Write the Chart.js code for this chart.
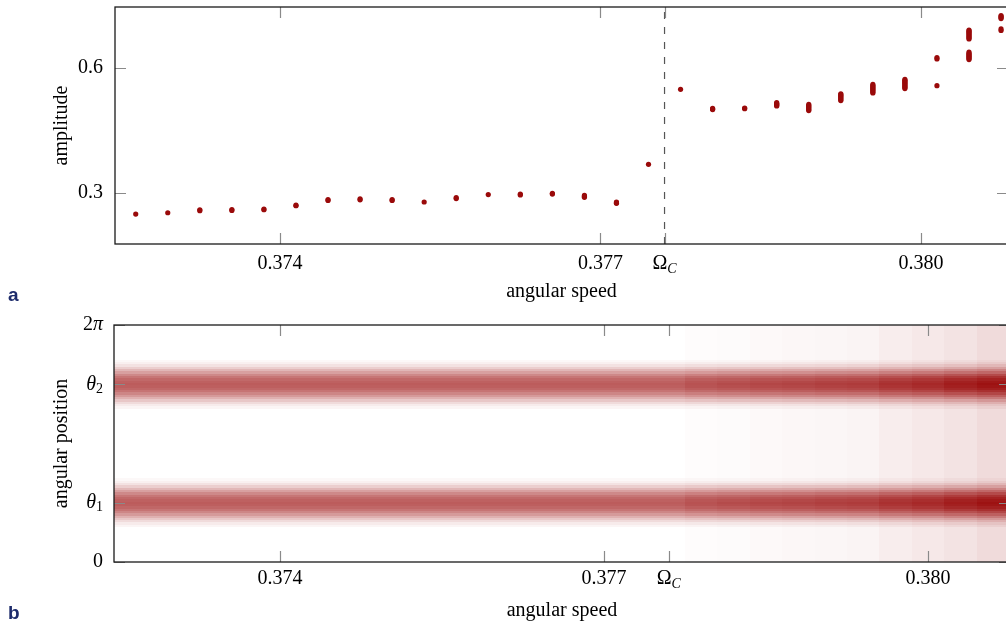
<!DOCTYPE html>
<html lang="en">
<head>
<meta charset="UTF-8">
<title>Amplitude and angular position vs angular speed</title>
<script src="https://cdn.jsdelivr.net/npm/chart.js"></script>
<style>
  html, body { margin: 0; padding: 0; background: #fff; overflow: hidden; }
  body { width: 1006px; height: 626px; position: relative; }
  canvas { position: absolute; left: 0; }
  #chartA { top: 0; }
  #chartB { top: 306px; }
  .tag {
    position: absolute; left: 8px;
    font-family: 'Liberation Sans', Arial, sans-serif;
    font-weight: bold; font-size: 19px; line-height: 20px;
    color: #1d2b6b;
  }
</style>
</head>
<body>
<canvas id="chartA" width="1012" height="318"></canvas>
<canvas id="chartB" width="1012" height="320"></canvas>
<div class="tag" style="top:285px">a</div>
<div class="tag" style="top:603px">b</div>
<script>
// angular speed of each sample
const speeds = [0.37265, 0.37295, 0.37325, 0.37355, 0.37385, 0.37415, 0.37445,
  0.37475, 0.37505, 0.37535, 0.37565, 0.37595, 0.37625, 0.37655, 0.37685,
  0.37715, 0.37745, 0.37775, 0.37805, 0.37835, 0.37865, 0.37895, 0.37925,
  0.37955, 0.37985, 0.38015, 0.38045, 0.38075];

// amplitudes seen at each speed
const amplitudes = [
  [0.2497],
  [0.2528],
  [0.2578, 0.2600],
  [0.2583, 0.2603],
  [0.2600, 0.2618],
  [0.2695, 0.2710],
  [0.2822, 0.2842],
  [0.2838, 0.2860],
  [0.2822, 0.2842],
  [0.2785],
  [0.2868, 0.2890],
  [0.2964],
  [0.2955, 0.2975],
  [0.2975, 0.2995],
  [0.2897, 0.2920, 0.2943],
  [0.2753, 0.2770, 0.2785],
  [0.3687],
  [0.5483],
  [0.4997, 0.5012, 0.5025],
  [0.5020, 0.5035],
  [0.5083, 0.5103, 0.5123, 0.5143, 0.5162],
  [0.4973, 0.4995, 0.5020, 0.5045, 0.5070, 0.5095, 0.5121],
  [0.5212, 0.5235, 0.5260, 0.5285, 0.5310, 0.5335, 0.5355, 0.5377],
  [0.5394, 0.5420, 0.5445, 0.5470, 0.5495, 0.5520, 0.5545, 0.5570, 0.5600],
  [0.5500, 0.5525, 0.5550, 0.5575, 0.5600, 0.5625, 0.5650, 0.5675, 0.5700, 0.5720],
  [0.5570, 0.6210, 0.6240],
  [0.6194, 0.6220, 0.6245, 0.6270, 0.6295, 0.6320, 0.6345, 0.6376,
   0.6687, 0.6710, 0.6735, 0.6760, 0.6785, 0.6810, 0.6835, 0.6860, 0.6880, 0.6900],
  [0.6890, 0.6927, 0.7175, 0.7200, 0.7225, 0.7250]
];

const omegaC = 0.3776;
const speedTicks = [0.374, 0.377, omegaC, 0.380];
const amplitudeTicks = [0.3, 0.6];
const angleTicks = [0, Math.PI / 2, 3 * Math.PI / 2, 2 * Math.PI];

// panel b: density of angular position, one column per speed sample
const cellWidth = 0.0003;
const angleRows = 102;
const bandCenters = [Math.PI / 2, 3 * Math.PI / 2];
const bandProfile = [0.06, 0.12, 0.22, 0.34, 0.48, 0.62, 0.74, 0.85, 0.93, 0.98,
  1.0, 0.97, 0.92, 0.84, 0.72, 0.58, 0.44, 0.30, 0.18, 0.09, 0.04];
const peakLevel = [0.64, 0.64, 0.64, 0.64, 0.64, 0.64, 0.64, 0.64, 0.64, 0.64,
  0.64, 0.64, 0.64, 0.64, 0.64, 0.64, 0.64, 0.64, 0.68, 0.70, 0.72, 0.73, 0.75,
  0.76, 0.80, 0.83, 0.88, 0.92];
const backLevel = [0, 0, 0, 0, 0, 0, 0, 0, 0, 0, 0, 0, 0, 0, 0, 0, 0, 0,
  0.01, 0.015, 0.025, 0.03, 0.035, 0.045, 0.07, 0.09, 0.11, 0.14];

const SERIF = "'Liberation Serif', 'Times New Roman', serif";
Chart.defaults.font.family = SERIF;
Chart.defaults.font.size = 20;
Chart.defaults.color = '#000';

// main glyph plus a subscript / second part
function drawPair(ctx, main, mainFont, sub, subFont, drop, x, y, align) {
  ctx.font = mainFont;
  const w1 = ctx.measureText(main).width;
  ctx.font = subFont;
  const w2 = ctx.measureText(sub).width;
  let x0 = align === 'right' ? x - w1 - w2 : x - (w1 + w2) / 2;
  ctx.textAlign = 'left';
  ctx.textBaseline = 'middle';
  ctx.fillStyle = '#000';
  ctx.font = mainFont;
  ctx.fillText(main, x0, y);
  ctx.font = subFont;
  ctx.fillText(sub, x0 + w1, y + drop);
}

const framePlugin = {
  id: 'frame',
  afterDraw(chart, args, opts) {
    const { ctx, chartArea: a, scales: { x, y } } = chart;
    ctx.save();
    ctx.strokeStyle = '#8a8a8a';
    ctx.lineWidth = 1.2;
    const len = 11;
    opts.xTicks.forEach(v => {
      const px = Math.round(x.getPixelForValue(v)) + 0.5;
      ctx.beginPath();
      ctx.moveTo(px, a.bottom); ctx.lineTo(px, a.bottom - len);
      ctx.moveTo(px, a.top); ctx.lineTo(px, a.top + len);
      ctx.stroke();
    });
    opts.yTicks.forEach(v => {
      const py = Math.round(y.getPixelForValue(v)) + 0.5;
      ctx.beginPath();
      ctx.moveTo(a.left, py); ctx.lineTo(a.left + len, py);
      ctx.moveTo(a.right, py); ctx.lineTo(a.right - len, py);
      ctx.stroke();
    });
    ctx.strokeStyle = '#1a1a1a';
    ctx.lineWidth = 1.3;
    ctx.strokeRect(a.left, a.top, a.right - a.left, a.bottom - a.top);

    // Omega_C tick label
    drawPair(ctx, 'Ω', '20px ' + SERIF, 'C', 'italic 14px ' + SERIF, 5,
      x.getPixelForValue(omegaC), a.bottom + opts.labelDrop, 'center');
    if (opts.angleLabels) {
      const lx = a.left - 11;
      drawPair(ctx, 'θ', 'italic 20px ' + SERIF, '1', '14px ' + SERIF, 5,
        lx, y.getPixelForValue(bandCenters[0]), 'right');
      drawPair(ctx, 'θ', 'italic 20px ' + SERIF, '2', '14px ' + SERIF, 5,
        lx, y.getPixelForValue(bandCenters[1]), 'right');
      drawPair(ctx, '2', '20px ' + SERIF, 'π', 'italic 20px ' + SERIF, 0,
        lx, y.getPixelForValue(2 * Math.PI), 'right');
    }
    ctx.restore();
  }
};

const heatPlugin = {
  id: 'heat',
  beforeDatasetsDraw(chart) {
    const { ctx, chartArea: a, scales: { x, y } } = chart;
    const rowH = 2 * Math.PI / angleRows;
    const mid = (bandProfile.length - 1) / 2;
    ctx.save();
    ctx.beginPath();
    ctx.rect(a.left, a.top, a.right - a.left, a.bottom - a.top);
    ctx.clip();
    speeds.forEach((s, k) => {
      const x0 = Math.round(x.getPixelForValue(s - cellWidth));
      const x1 = Math.round(x.getPixelForValue(s));
      if (backLevel[k] > 0) {
        ctx.fillStyle = 'rgba(150,0,0,' + backLevel[k] + ')';
        ctx.fillRect(x0, a.top, x1 - x0, a.bottom - a.top);
      }
      bandCenters.forEach(c => {
        bandProfile.forEach((p, i) => {
          const off = i - mid;
          const yTop = Math.round(y.getPixelForValue(c + (off + 0.5) * rowH));
          const yBot = Math.round(y.getPixelForValue(c + (off - 0.5) * rowH));
          ctx.fillStyle = 'rgba(150,0,0,' + (peakLevel[k] * p).toFixed(3) + ')';
          ctx.fillRect(x0, yTop, x1 - x0, yBot - yTop);
        });
      });
    });
    ctx.restore();
  }
};

function speedAxis(min, max, height, tickPad, titlePad) {
  return {
    type: 'linear', min: min, max: max,
    grid: { display: false, drawTicks: false },
    border: { display: false },
    afterBuildTicks: s => { s.ticks = speedTicks.map(v => ({ value: v })); },
    ticks: {
      padding: tickPad, autoSkip: false, maxRotation: 0,
      callback: v => v === omegaC ? '' : v.toFixed(3)
    },
    title: { display: true, text: 'angular speed', padding: { top: 0, bottom: titlePad } },
    afterFit: s => { s.height = height; s.paddingLeft = 0; s.paddingRight = 0; }
  };
}

// panel a: amplitude scatter
const points = [];
speeds.forEach((s, i) => amplitudes[i].forEach(v => points.push({ x: s, y: v })));
const ampMin = 0.178, ampMax = 0.7453;

new Chart(document.getElementById('chartA'), {
  type: 'scatter',
  data: {
    datasets: [{
      data: points,
      pointRadius: 2.6,
      pointBorderWidth: 0,
      pointBackgroundColor: '#9a0a0a'
    }, {
      data: [{ x: omegaC, y: ampMin }, { x: omegaC, y: ampMax }],
      showLine: true,
      pointRadius: 0,
      borderColor: '#555',
      borderWidth: 1.2,
      borderDash: [7, 8]
    }]
  },
  options: {
    responsive: false, animation: false, devicePixelRatio: 1,
    layout: { padding: { top: 7, right: 2, left: 0, bottom: 0 } },
    plugins: {
      legend: { display: false }, tooltip: { enabled: false },
      frame: { xTicks: speedTicks, yTicks: amplitudeTicks, angleLabels: false, labelDrop: 20 }
    },
    scales: {
      x: speedAxis(0.372456, 0.380815, 74, 8, 14),
      y: {
        min: ampMin, max: ampMax,
        grid: { display: false, drawTicks: false },
        border: { display: false },
        afterBuildTicks: s => { s.ticks = amplitudeTicks.map(v => ({ value: v })); },
        ticks: { padding: 12, callback: v => v.toFixed(1) },
        title: { display: true, text: 'amplitude', padding: { top: 50, bottom: 0 } },
        afterFit: s => { s.width = 115; s.paddingTop = 0; s.paddingBottom = 0; }
      }
    }
  },
  plugins: [framePlugin]
});

// panel b: angular position density
new Chart(document.getElementById('chartB'), {
  type: 'scatter',
  data: { datasets: [] },
  options: {
    responsive: false, animation: false, devicePixelRatio: 1,
    layout: { padding: { top: 19, right: 2, left: 0, bottom: 0 } },
    plugins: {
      legend: { display: false }, tooltip: { enabled: false },
      frame: { xTicks: speedTicks, yTicks: angleTicks, angleLabels: true, labelDrop: 17 }
    },
    scales: {
      x: speedAxis(0.372463, 0.380759, 64, 5, 3),
      y: {
        min: 0, max: 2 * Math.PI,
        grid: { display: false, drawTicks: false },
        border: { display: false },
        afterBuildTicks: s => { s.ticks = angleTicks.map(v => ({ value: v })); },
        ticks: { padding: 11, callback: v => v === 0 ? '0' : '' },
        title: { display: true, text: 'angular position', padding: { top: 50, bottom: 0 } },
        afterFit: s => { s.width = 114; s.paddingTop = 0; s.paddingBottom = 0; }
      }
    }
  },
  plugins: [heatPlugin, framePlugin]
});
</script>
</body>
</html>
